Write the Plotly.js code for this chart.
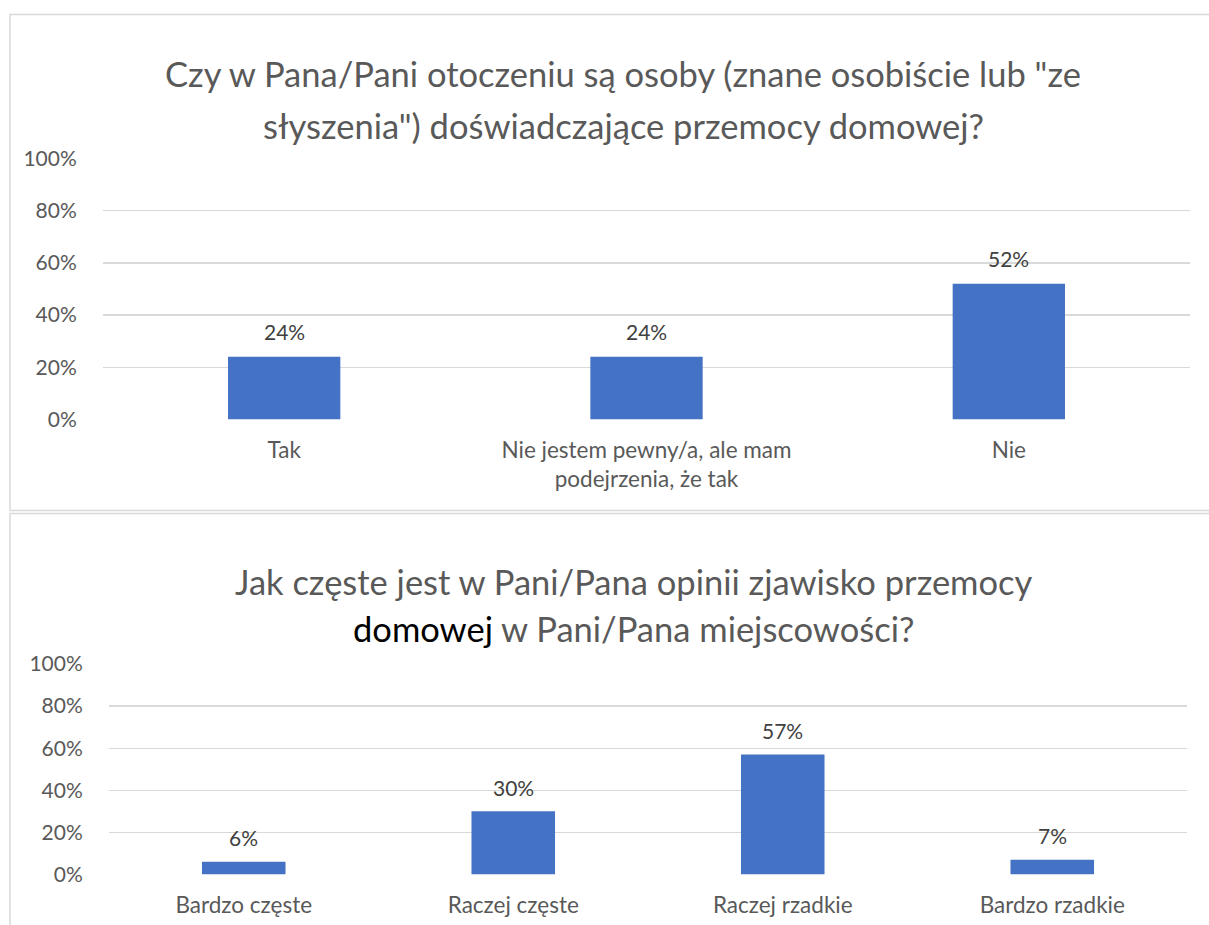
<!DOCTYPE html>
<html>
<head>
<meta charset="utf-8">
<script src="https://cdn.plot.ly/plotly-3.0.1.min.js"></script>
<style>html,body{margin:0;padding:0;background:#fff;}#chart{width:1209px;height:925px;}</style>
</head>
<body>
<div id="chart"></div>
<script>
const W = 1209, H = 925;
const cats1 = ["Tak", "Nie jestem pewny/a, ale mam<br>podejrzenia, że tak", "Nie"];
const vals1 = [24, 24, 52];
const cats2 = ["Bardzo częste", "Raczej częste", "Raczej rzadkie", "Bardzo rzadkie"];
const vals2 = [6, 30, 57, 7];
const yTicks = [0, 20, 40, 60, 80, 100];
const yTickText = ["0%", "20%", "40%", "60%", "80%", "100%"];
const title1 = ["Czy w Pana/Pani otoczeniu są osoby (znane osobiście lub \"ze", "słyszenia\") doświadczające przemocy domowej?"];
const title2 = ["Jak częste jest w Pani/Pana opinii zjawisko przemocy", "<span style=\"color:#000000\">domowej</span> w Pani/Pana miejscowości?"];

const FONT = "Lato, 'Open Sans', sans-serif";
const GREY = "#595959";
const px = v => v / W;
const py = v => 1 - v / H;

const traces = [
  {type: "bar", x: cats1, y: vals1, xaxis: "x", yaxis: "y", marker: {color: "#4472C4"}, width: 0.31, hoverinfo: "skip"},
  {type: "bar", x: cats2, y: vals2, xaxis: "x2", yaxis: "y2", marker: {color: "#4472C4"}, width: 0.31, hoverinfo: "skip"}
];

const yax = dom => ({
  domain: dom, range: [0, 100], tickvals: yTicks, ticktext: yTickText,
  showgrid: true, gridcolor: "#D9D9D9", gridwidth: 1.3, zeroline: false, showline: false,
  ticks: "outside", ticklen: 21, tickcolor: "rgba(0,0,0,0)",
  tickfont: {family: FONT, size: 21, color: GREY}, fixedrange: true
});
const xax = (dom, anchor) => ({
  domain: dom, anchor: anchor, showgrid: false, zeroline: false, showline: false,
  ticks: "outside", ticklen: 10, tickcolor: "rgba(0,0,0,0)",
  tickfont: {family: FONT, size: 22.5, color: GREY}, fixedrange: true
});

const annotations = [];
vals1.forEach((v, i) => annotations.push({xref: "x", yref: "y", x: cats1[i], y: v, text: v + "%", showarrow: false, yanchor: "middle", yshift: 25, font: {family: FONT, size: 21, color: "#404040"}}));
vals2.forEach((v, i) => annotations.push({xref: "x2", yref: "y2", x: cats2[i], y: v, text: v + "%", showarrow: false, yanchor: "middle", yshift: 24, font: {family: FONT, size: 21, color: "#404040"}}));
const titleY1 = [74, 126];
const titleY2 = [581, 628];
title1.forEach((t, i) => annotations.push({xref: "paper", yref: "paper", x: px(623), y: py(titleY1[i]), text: t, showarrow: false, xanchor: "center", yanchor: "middle", font: {family: FONT, size: 34.5, color: GREY}}));
title2.forEach((t, i) => annotations.push({xref: "paper", yref: "paper", x: px(634), y: py(titleY2[i]), text: t, showarrow: false, xanchor: "center", yanchor: "middle", font: {family: FONT, size: 34.5, color: GREY}}));

const shapes = [
  {type: "rect", xref: "paper", yref: "paper", x0: px(10), x1: px(1230), y0: py(14.5), y1: py(510.5), line: {color: "#D9D9D9", width: 1.5}, fillcolor: "rgba(0,0,0,0)"},
  {type: "rect", xref: "paper", yref: "paper", x0: px(10), x1: px(1230), y0: py(513.5), y1: py(950), line: {color: "#D9D9D9", width: 1.5}, fillcolor: "rgba(0,0,0,0)"}
];

const layout = {
  width: W, height: H, margin: {l: 0, r: 0, t: 0, b: 0},
  paper_bgcolor: "#ffffff", plot_bgcolor: "rgba(0,0,0,0)", showlegend: false,
  xaxis: xax([px(103), px(1190)], "y"),
  yaxis: yax([py(419.5), py(158.5)]),
  xaxis2: xax([px(109), px(1187)], "y2"),
  yaxis2: yax([py(874.5), py(664)]),
  annotations: annotations, shapes: shapes
};
layout.yaxis2.anchor = "x2";
layout.yaxis.anchor = "x";

Plotly.newPlot("chart", traces, layout, {displayModeBar: false, staticPlot: true});
</script>
</body>
</html>
